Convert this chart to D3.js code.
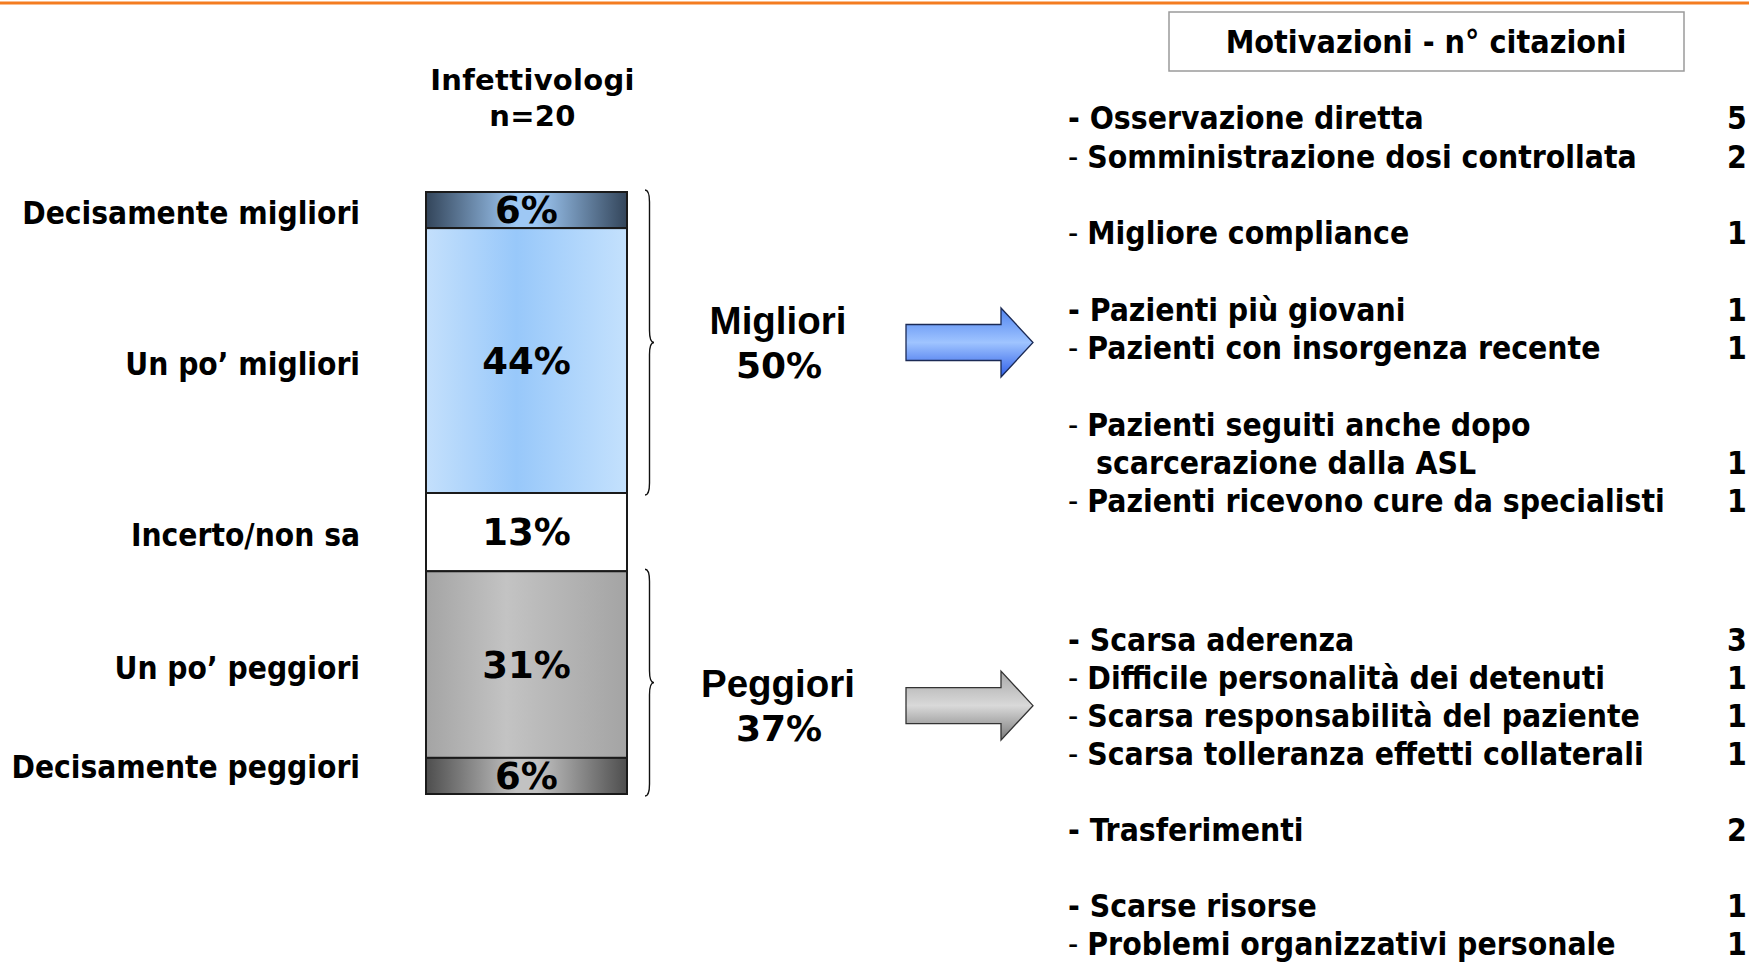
<!DOCTYPE html>
<html lang="it">
<head>
<meta charset="UTF-8">
<title>Infettivologi - motivazioni</title>
<style>
  body { margin: 0; background: #fff; }
  svg { display: block; }
  .cond { font-family: "DejaVu Sans Condensed", "DejaVu Sans", sans-serif; font-stretch: condensed; font-weight: bold; }
  .wide { font-family: "DejaVu Sans", sans-serif; font-weight: bold; }
  .arial { font-family: "Liberation Sans", Arial, sans-serif; font-weight: bold; }
</style>
</head>
<body>
<script src="https://cdn.jsdelivr.net/npm/d3@7"></script>
<script>
// ---- data ----
const categories = ["Decisamente migliori", "Un po\u2019 migliori", "Incerto/non sa", "Un po\u2019 peggiori", "Decisamente peggiori"];
const shares = [6, 44, 13, 31, 6];
const column = ["Infettivologi", "n=20"];

const groupNames = ["Migliori", "Peggiori"];
const groupShares = [50, 37];
const groupMembers = [[0, 1], [3, 4]];

const listTitle = "Motivazioni - n\u00b0 citazioni";

// blocks of reasons (a blank line between blocks), each: [lines of text, citations]
const reasonsBetter = [
  [[["Osservazione diretta"], 5], [["Somministrazione dosi controllata"], 2]],
  [[["Migliore compliance"], 1]],
  [[["Pazienti pi\u00f9 giovani"], 1], [["Pazienti con insorgenza recente"], 1]],
  [[["Pazienti seguiti anche dopo", "scarcerazione dalla ASL"], 1], [["Pazienti ricevono cure da specialisti"], 1]]
];
const reasonsWorse = [
  [[["Scarsa aderenza"], 3], [["Difficile personalit\u00e0 dei detenuti"], 1],
   [["Scarsa responsabilit\u00e0 del paziente"], 1], [["Scarsa tolleranza effetti collaterali"], 1]],
  [[["Trasferimenti"], 2]],
  [[["Scarse risorse"], 1], [["Problemi organizzativi personale"], 1]]
];
const boldDash = ["Osservazione diretta", "Pazienti pi\u00f9 giovani", "Scarsa aderenza", "Trasferimenti", "Scarse risorse"];

// ---- drawing ----
const width = 1749, height = 964;

const svg = d3.select("body").append("svg")
  .attr("width", width)
  .attr("height", height);

svg.append("rect").attr("width", width).attr("height", height).attr("fill", "#fff");

// orange rule on top
svg.append("line")
  .attr("x1", 0).attr("x2", width).attr("y1", 3).attr("y2", 3)
  .attr("stroke", "#f47c20").attr("stroke-width", 3);

const defs = svg.append("defs");
function hGrad(id, stops) {
  const g = defs.append("linearGradient").attr("id", id)
    .attr("x1", "0%").attr("x2", "100%").attr("y1", "0%").attr("y2", "0%");
  stops.forEach(s => g.append("stop").attr("offset", s[0]).attr("stop-color", s[1]));
}
function vGrad(id, stops) {
  const g = defs.append("linearGradient").attr("id", id)
    .attr("x1", "0%").attr("x2", "0%").attr("y1", "0%").attr("y2", "100%");
  stops.forEach(s => g.append("stop").attr("offset", s[0]).attr("stop-color", s[1]));
}
hGrad("g0", [["0%", "#33455a"], ["45%", "#9ec8f4"], ["55%", "#9ec8f4"], ["100%", "#33455a"]]);
hGrad("g1", [["0%", "#c4e0fc"], ["45%", "#98c8fa"], ["100%", "#c4e1fd"]]);
hGrad("g2", [["0%", "#ffffff"], ["100%", "#ffffff"]]);
hGrad("g3", [["0%", "#a4a4a4"], ["40%", "#c3c3c3"], ["100%", "#a4a4a4"]]);
hGrad("g4", [["0%", "#4e4e4e"], ["45%", "#c2c2c2"], ["55%", "#c2c2c2"], ["100%", "#4e4e4e"]]);
vGrad("arrowBlue", [["0%", "#4f83f0"], ["50%", "#9fc4ff"], ["100%", "#2f5fe8"]]);
vGrad("arrowGray", [["0%", "#a8a8a8"], ["50%", "#d9d9d9"], ["100%", "#7a7a7a"]]);

// scales
const x = d3.scaleBand().domain([column[0]]).range([426, 627]).padding(0);
const y = d3.scaleLinear().domain([0, d3.sum(shares)]).range([192, 794]);

const starts = d3.cumsum([0].concat(shares)).slice(0, shares.length);
const segs = shares.map((v, i) => ({ cat: categories[i], v, y0: starts[i], y1: starts[i] + v, i }));

// column header
const head = svg.append("text").attr("class", "wide")
  .attr("text-anchor", "middle").attr("font-size", 29).attr("letter-spacing", 0.3);
head.selectAll("tspan").data(column).join("tspan")
  .attr("x", x(column[0]) + x.bandwidth() / 2 + 6)
  .attr("y", (d, i) => 90 + i * 36)
  .text(d => d);

// stacked bar
svg.append("g").selectAll("rect").data(segs).join("rect")
  .attr("x", x(column[0]))
  .attr("width", x.bandwidth())
  .attr("y", d => y(d.y0))
  .attr("height", d => y(d.y1) - y(d.y0))
  .attr("fill", d => `url(#g${d.i})`)
  .attr("stroke", "#1a1a1a").attr("stroke-width", 2);

svg.append("g").attr("class", "wide").selectAll("text").data(segs).join("text")
  .attr("x", x(column[0]) + x.bandwidth() / 2)
  .attr("y", d => y((d.y0 + d.y1) / 2))
  .attr("dy", "0.36em")
  .attr("text-anchor", "middle")
  .attr("font-size", 37)
  .text(d => d.v + "%");

// category labels
const barBottom = y(d3.sum(shares));
svg.append("g").attr("class", "cond").selectAll("text").data(segs).join("text")
  .attr("x", 360)
  .attr("y", d => Math.min(y((d.y0 + d.y1) / 2) + 3, barBottom - 27))
  .attr("dy", "0.36em")
  .attr("text-anchor", "end")
  .attr("font-size", 31.4)
  .text(d => d.cat);

// braces, group labels, arrows
function brace(x0, ya, yb) {
  const w = 4.5, r = 12, m = (ya + yb) / 2;
  return `M${x0},${ya} Q${x0 + w},${ya} ${x0 + w},${ya + r} L${x0 + w},${m - r} Q${x0 + w},${m} ${x0 + 2 * w},${m}` +
    ` Q${x0 + w},${m} ${x0 + w},${m + r} L${x0 + w},${yb - r} Q${x0 + w},${yb} ${x0},${yb}`;
}
const groups = groupNames.map((name, g) => {
  const a = d3.min(groupMembers[g], i => segs[i].y0);
  const b = d3.max(groupMembers[g], i => segs[i].y1);
  return { name, pct: groupShares[g], ya: y(a), yb: y(b), g };
});
const labelShift = [0, 23];

svg.append("g").selectAll("path").data(groups).join("path")
  .attr("d", d => brace(645, d.ya - 2, d.yb + 2))
  .attr("fill", "none").attr("stroke", "#111").attr("stroke-width", 1.4);

groups.forEach(d => {
  const c = (d.ya + d.yb) / 2 + labelShift[d.g];
  svg.append("text").attr("class", "arial")
    .attr("x", 778).attr("y", c - 9).attr("text-anchor", "middle")
    .attr("font-size", 38.5).text(d.name);
  svg.append("text").attr("class", "wide")
    .attr("x", 779).attr("y", c + 35).attr("text-anchor", "middle")
    .attr("font-size", 36).text(d.pct + "%");

  const x0 = 906, xh = 1001, xt = 1033, sh = 18, hh = 34.5;
  const pts = [[x0, c - sh], [xh, c - sh], [xh, c - hh], [xt, c], [xh, c + hh], [xh, c + sh], [x0, c + sh]];
  svg.append("path")
    .attr("d", d3.line()(pts) + "Z")
    .attr("fill", d.g === 0 ? "url(#arrowBlue)" : "url(#arrowGray)")
    .attr("stroke", d.g === 0 ? "#1b2a55" : "#333").attr("stroke-width", 1.3)
    .attr("stroke-linejoin", "miter");
});

// reasons panel
svg.append("rect")
  .attr("x", 1169).attr("y", 12).attr("width", 515).attr("height", 59)
  .attr("fill", "#fff").attr("stroke", "#9a9a9a").attr("stroke-width", 1.5);
svg.append("text").attr("class", "cond")
  .attr("x", 1426).attr("y", 53).attr("text-anchor", "middle")
  .attr("font-size", 32).text(listTitle);

function flatten(blocks) {
  const rows = [];
  let r = 0;
  blocks.forEach((block, bi) => {
    if (bi > 0) r += 1;
    block.forEach(([lines, n]) => {
      lines.forEach((t, li) => {
        rows.push({ t, row: r, first: li === 0, n: li === lines.length - 1 ? n : null, bold: boldDash.includes(t) });
        r += 1;
      });
    });
  });
  return rows;
}

function drawList(blocks, top, step) {
  const rows = flatten(blocks);
  const ry = d3.scaleLinear().domain([0, 1]).range([top, top + step]);
  const g = svg.append("g").attr("class", "cond").attr("font-size", 31.6);
  const txt = g.selectAll("text.reason").data(rows).join("text")
    .attr("class", "reason")
    .attr("x", d => d.first ? 1068 : 1096)
    .attr("y", d => ry(d.row))
    .attr("dy", "0.36em");
  txt.filter(d => d.first).append("tspan")
    .attr("font-weight", d => d.bold ? "bold" : "normal")
    .text("- ");
  txt.append("tspan").text(d => d.t);
  g.selectAll("text.count").data(rows.filter(d => d.n !== null)).join("text")
    .attr("class", "count")
    .attr("x", 1727)
    .attr("y", d => ry(d.row))
    .attr("dy", "0.36em")
    .text(d => d.n);
}
drawList(reasonsBetter, 118, 38.3);
drawList(reasonsWorse, 640, 37.9);
</script>
</body>
</html>
